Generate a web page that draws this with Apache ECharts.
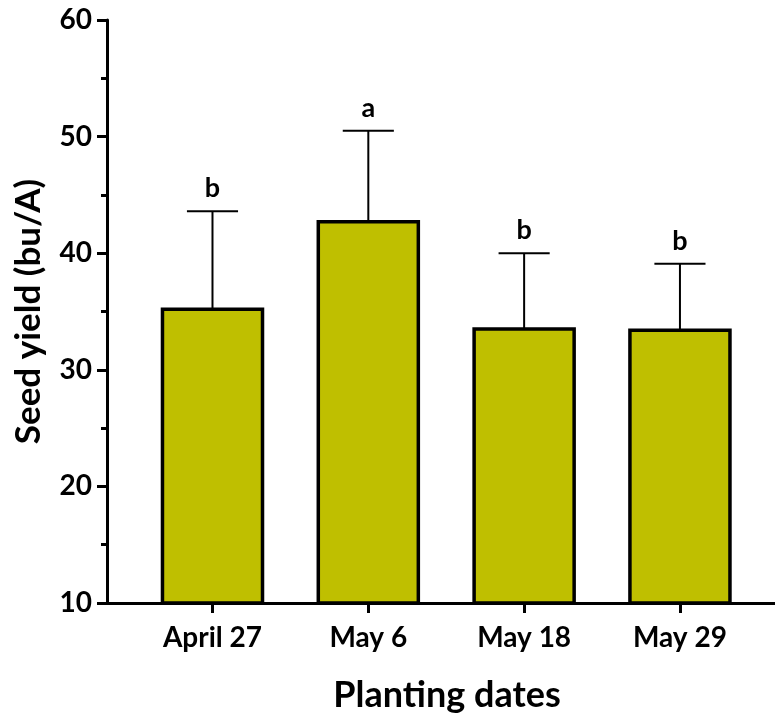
<!DOCTYPE html>
<html>
<head>
<meta charset="utf-8">
<script src="https://cdn.jsdelivr.net/npm/echarts@6/dist/echarts.min.js"></script>
<style>
  html, body { margin: 0; padding: 0; background: #fff; }
  #chart { width: 775px; height: 715px; }
</style>
</head>
<body>
<div id="chart"></div>
<script>
// Planting date categories and seed yield (bu/A)
const categories = ['April 27', 'May 6', 'May 18', 'May 29'];
const yieldMean = [35.2, 42.7, 33.5, 33.4];
const yieldErr = [8.4, 7.8, 6.5, 5.7];
const groupLetters = ['b', 'a', 'b', 'b'];
const yTicks = [10, 20, 30, 40, 50, 60];

const FONT = 'Lato';
const BAR_COLOR = '#bfbf00';

const seriesData = categories.map((c, i) => [i, yieldMean[i], yieldMean[i] + yieldErr[i]]);

function renderBar(params, api) {
  const x = api.value(0);
  const mean = api.value(1);
  const top = api.value(2);
  const letter = groupLetters[params.dataIndex];
  const unit = api.size([1, 0])[0];
  const half = unit * 0.321;
  const capHalf = unit * 0.164;
  const base = api.coord([x, yTicks[0]]);
  const pMean = api.coord([x, mean]);
  const pTop = api.coord([x, top]);
  return {
    type: 'group',
    children: [
      {
        type: 'line',
        shape: { x1: pMean[0], y1: pMean[1], x2: pTop[0], y2: pTop[1] },
        style: { stroke: '#000', lineWidth: 2 }
      },
      {
        type: 'line',
        shape: { x1: pTop[0] - capHalf, y1: pTop[1], x2: pTop[0] + capHalf, y2: pTop[1] },
        style: { stroke: '#000', lineWidth: 2 }
      },
      {
        type: 'rect',
        shape: { x: pMean[0] - half, y: pMean[1], width: half * 2, height: base[1] - pMean[1] },
        style: { fill: BAR_COLOR, stroke: '#000', lineWidth: 3.5 }
      },
      {
        type: 'text',
        x: pTop[0],
        y: pTop[1] - 9,
        style: {
          text: letter,
          fill: '#000',
          font: 'bold 27px ' + FONT,
          align: 'center',
          verticalAlign: 'bottom'
        }
      }
    ]
  };
}

const chart = echarts.init(document.getElementById('chart'), null, { renderer: 'canvas' });
chart.setOption({
  animation: false,
  backgroundColor: '#fff',
  grid: { left: 107, right: 0, top: 20, bottom: 112, containLabel: false, outerBoundsMode: 'none' },
  xAxis: {
    type: 'value',
    min: -0.677,
    max: 3.61,
    splitLine: { show: false },
    axisLine: { show: true, onZero: false, lineStyle: { color: '#000', width: 3 } },
    axisTick: { show: true, customValues: [0, 1, 2, 3], length: 10, lineStyle: { color: '#000', width: 3 } },
    axisLabel: {
      customValues: [0, 1, 2, 3],
      formatter: v => categories[Math.round(v)],
      color: '#000',
      fontFamily: FONT,
      fontWeight: 'bold',
      fontSize: 28,
      margin: 21
    },
    name: 'Planting dates',
    nameLocation: 'middle',
    nameGap: 74,
    nameTextStyle: { color: '#000', fontFamily: FONT, fontWeight: 'bold', fontSize: 36, padding: [0, 0, 0, 12] }
  },
  yAxis: {
    type: 'value',
    min: 10,
    max: 60,
    interval: 10,
    splitLine: { show: false },
    axisLine: { show: true, onZero: false, lineStyle: { color: '#000', width: 3 } },
    axisTick: { show: true, length: 10, lineStyle: { color: '#000', width: 3 } },
    minorTick: { show: true, splitNumber: 2, length: 6, lineStyle: { color: '#000', width: 3 } },
    axisLabel: {
      color: '#000',
      fontFamily: FONT,
      fontWeight: 'bold',
      fontSize: 28,
      margin: 15
    },
    name: 'Seed yield (bu/A)',
    nameLocation: 'middle',
    nameGap: 61,
    nameRotate: 90,
    nameTextStyle: { color: '#000', fontFamily: FONT, fontWeight: 'bold', fontSize: 35 }
  },
  series: [{
    type: 'custom',
    renderItem: renderBar,
    encode: { x: 0, y: 1 },
    data: seriesData,
    clip: false
  }]
});
</script>
</body>
</html>
